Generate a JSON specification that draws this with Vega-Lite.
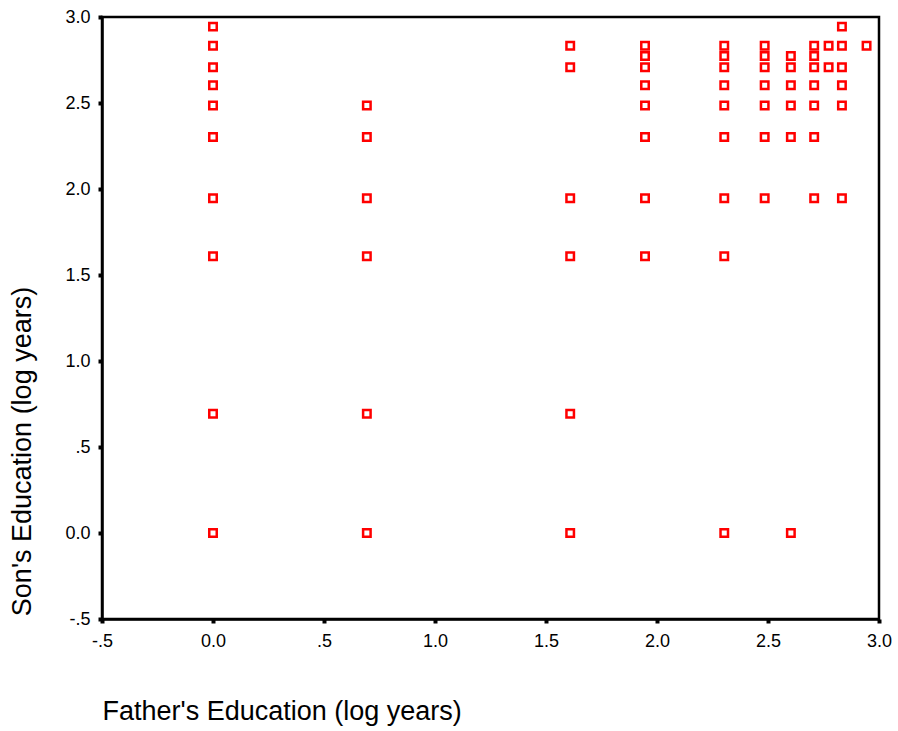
{
  "$schema": "https://vega.github.io/schema/vega-lite/v6.json",
  "width": 777,
  "height": 602,
  "autosize": {"type": "none"},
  "padding": {"left": 102, "top": 17, "right": 19, "bottom": 112},
  "background": "white",
  "config": {
    "view": {"stroke": "black", "strokeWidth": 2.5},
    "font": "Liberation Sans"
  },
  "data": {
    "values": [
      {"father": 0, "son": 2.944}, {"father": 0, "son": 2.833}, {"father": 0, "son": 2.708}, {"father": 0, "son": 2.603},
      {"father": 0, "son": 2.485}, {"father": 0, "son": 2.303}, {"father": 0, "son": 1.946}, {"father": 0, "son": 1.609},
      {"father": 0, "son": 0.693}, {"father": 0, "son": 0},
      {"father": 0.693, "son": 2.485}, {"father": 0.693, "son": 2.303}, {"father": 0.693, "son": 1.946}, {"father": 0.693, "son": 1.609},
      {"father": 0.693, "son": 0.693}, {"father": 0.693, "son": 0},
      {"father": 1.609, "son": 2.833}, {"father": 1.609, "son": 2.708}, {"father": 1.609, "son": 1.946}, {"father": 1.609, "son": 1.609},
      {"father": 1.609, "son": 0.693}, {"father": 1.609, "son": 0},
      {"father": 1.946, "son": 2.833}, {"father": 1.946, "son": 2.773}, {"father": 1.946, "son": 2.708}, {"father": 1.946, "son": 2.603},
      {"father": 1.946, "son": 2.485}, {"father": 1.946, "son": 2.303}, {"father": 1.946, "son": 1.946}, {"father": 1.946, "son": 1.609},
      {"father": 2.303, "son": 2.833}, {"father": 2.303, "son": 2.773}, {"father": 2.303, "son": 2.708}, {"father": 2.303, "son": 2.603},
      {"father": 2.303, "son": 2.485}, {"father": 2.303, "son": 2.303}, {"father": 2.303, "son": 1.946}, {"father": 2.303, "son": 1.609},
      {"father": 2.303, "son": 0},
      {"father": 2.485, "son": 2.833}, {"father": 2.485, "son": 2.773}, {"father": 2.485, "son": 2.708}, {"father": 2.485, "son": 2.603},
      {"father": 2.485, "son": 2.485}, {"father": 2.485, "son": 2.303}, {"father": 2.485, "son": 1.946},
      {"father": 2.603, "son": 2.773}, {"father": 2.603, "son": 2.708}, {"father": 2.603, "son": 2.603}, {"father": 2.603, "son": 2.485},
      {"father": 2.603, "son": 2.303}, {"father": 2.603, "son": 0},
      {"father": 2.708, "son": 2.833}, {"father": 2.708, "son": 2.773}, {"father": 2.708, "son": 2.708}, {"father": 2.708, "son": 2.603},
      {"father": 2.708, "son": 2.485}, {"father": 2.708, "son": 2.303}, {"father": 2.708, "son": 1.946},
      {"father": 2.773, "son": 2.833}, {"father": 2.773, "son": 2.708},
      {"father": 2.833, "son": 2.944}, {"father": 2.833, "son": 2.833}, {"father": 2.833, "son": 2.708}, {"father": 2.833, "son": 2.603},
      {"father": 2.833, "son": 2.485}, {"father": 2.833, "son": 1.946},
      {"father": 2.944, "son": 2.833}
    ]
  },
  "mark": {"type": "point", "shape": "square", "filled": false, "stroke": "#ff0000", "strokeWidth": 2.5, "size": 56, "opacity": 1},
  "encoding": {
    "x": {
      "field": "father", "type": "quantitative",
      "scale": {"domain": [-0.5, 3.0], "nice": false, "zero": false},
      "axis": {
        "title": "Father's Education (log years)",
        "values": [-0.5, 0, 0.5, 1, 1.5, 2, 2.5, 3],
        "labelExpr": "datum.value == 0.5 ? '.5' : datum.value == -0.5 ? '-.5' : format(datum.value, '.1f')",
        "grid": false,
        "domainColor": "black", "domainWidth": 2.5,
        "tickColor": "black", "tickWidth": 4, "tickSize": 4,
        "labelFont": "Liberation Sans", "labelFontSize": 18, "labelColor": "black",
        "labelPadding": 9, "labelFlush": false, "labelOverlap": false,
        "titleFont": "Liberation Sans", "titleFontSize": 27, "titleFontWeight": "normal", "titleColor": "black",
        "titleAlign": "left", "titleBaseline": "middle", "titleAnchor": null,
        "titleX": 0, "titleY": 92
      }
    },
    "y": {
      "field": "son", "type": "quantitative",
      "scale": {"domain": [-0.5, 3.0], "nice": false, "zero": false},
      "axis": {
        "title": "Son's Education (log years)",
        "values": [-0.5, 0, 0.5, 1, 1.5, 2, 2.5, 3],
        "labelExpr": "datum.value == 0.5 ? '.5' : datum.value == -0.5 ? '-.5' : format(datum.value, '.1f')",
        "grid": false,
        "domainColor": "black", "domainWidth": 2.5,
        "tickColor": "black", "tickWidth": 4, "tickSize": 4,
        "labelFont": "Liberation Sans", "labelFontSize": 18, "labelColor": "black",
        "labelPadding": 8, "labelFlush": false, "labelOverlap": false,
        "titleFont": "Liberation Sans", "titleFontSize": 27, "titleFontWeight": "normal", "titleColor": "black",
        "titleAngle": -90, "titleAlign": "center", "titleBaseline": "middle", "titleAnchor": null,
        "titleX": -80, "titleY": 434
      }
    }
  }
}
